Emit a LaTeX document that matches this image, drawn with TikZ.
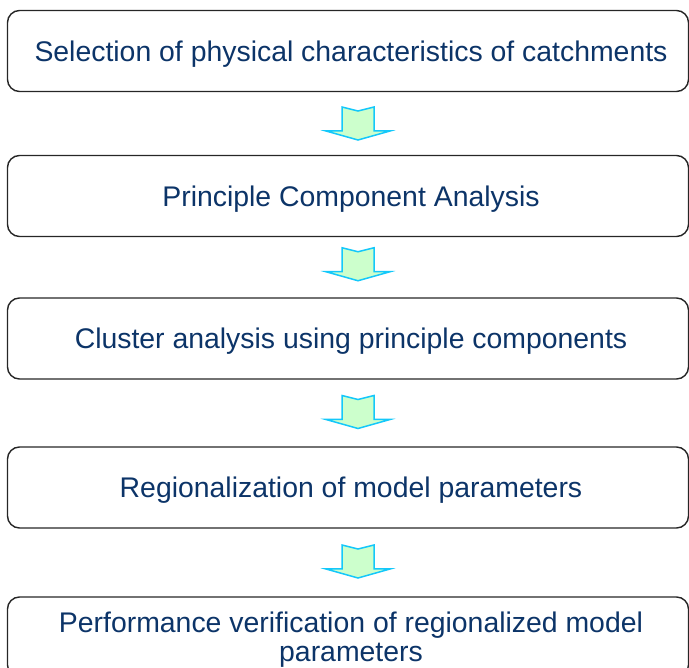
\documentclass[tikz,border=0pt]{standalone}
\usepackage{fontspec}
\setmainfont{Liberation Sans}
\usetikzlibrary{calc,positioning}

\definecolor{stagetext}{RGB}{12,52,104}
\definecolor{arrowline}{RGB}{20,200,250}
\definecolor{arrowfill}{RGB}{204,255,204}

\tikzset{
    stagebox/.style={
        draw=black!85,
        line width=1.4pt,
        rounded corners=12pt,
        minimum width=681pt,
        minimum height=81pt,
        text depth=0pt,
        align=center,
        text=stagetext,
        font=\fontsize{28.4}{29}\selectfont
    },
    flowarrow/.style={
        draw=arrowline,
        fill=arrowfill,
        line width=1.5pt,
        line join=miter
    }
}

% block arrow with a notched tail, centred on a coordinate
\newcommand\flowarrow[1]{%
    \draw[flowarrow] ($(#1)+(-16,-16.5)$) -- ($(#1)+(0,-12.5)$)
        -- ($(#1)+(16,-16.5)$) -- ($(#1)+(16,7.5)$)
        -- ($(#1)+(32,7.5)$) -- ($(#1)+(0,16.5)$)
        -- ($(#1)+(-32,7.5)$) -- ($(#1)+(-16,7.5)$) -- cycle;%
}

\begin{document}
\begin{tikzpicture}[
    x=1pt,
    y=-1pt,
    line cap=round
]

\useasboundingbox (0,0) rectangle (689,668);

% -----------------------
% Stages
% -----------------------
\node[stagebox] (select) at (348,51) {\hspace*{6pt}Selection of physical characteristics of catchments};
\node[stagebox] (pca)    at (348,196) {\hspace*{6pt}Principle Component Analysis};
\node[stagebox] (cluster) at (348,338.5) {\hspace*{6pt}Cluster analysis using principle components};
\node[stagebox] (region) at (348,487.5) {\hspace*{6pt}Regionalization of model parameters};
\node[stagebox, minimum height=80pt] (verify) at (348,637)
    {\hspace*{6pt}Performance verification of regionalized model\\\hspace*{6pt}parameters};

% -----------------------
% Arrows between stages
% -----------------------
\coordinate (a1) at ($(select.south)!0.5!(pca.north)+(10,0)$);
\coordinate (a2) at ($(pca.south)!0.5!(cluster.north)+(10,-3)$);
\coordinate (a3) at ($(cluster.south)!0.5!(region.north)+(10,-1)$);
\coordinate (a4) at ($(region.south)!0.5!(verify.north)+(10,-1)$);

\flowarrow{a1}
\flowarrow{a2}
\flowarrow{a3}
\flowarrow{a4}

\end{tikzpicture}
\end{document}
